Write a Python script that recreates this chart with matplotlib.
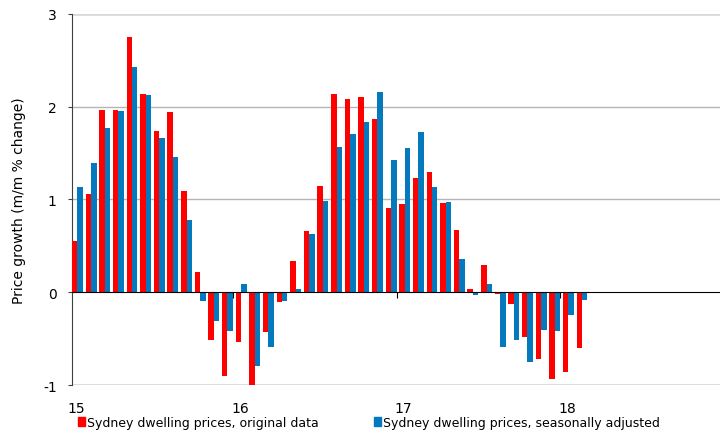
import numpy as np
import matplotlib
matplotlib.use("Agg")
import matplotlib.pyplot as plt
from matplotlib.patches import Patch
from matplotlib.transforms import blended_transform_factory

# monthly growth, Jan 2015 - Feb 2018
original = [0.55, 1.06, 1.97, 1.96, 2.75, 2.14, 1.74, 1.94, 1.09, 0.22, -0.52, -0.90,
            -0.54, -1.02, -0.43, -0.10, 0.34, 0.66, 1.15, 2.14, 2.08, 2.11, 1.87, 0.91,
            0.95, 1.23, 1.30, 0.96, 0.67, 0.035, 0.29, -0.02, -0.13, -0.48, -0.72, -0.93,
            -0.86, -0.60]
seas_adj = [1.13, 1.39, 1.77, 1.95, 2.43, 2.13, 1.66, 1.46, 0.78, -0.09, -0.31, -0.42,
            0.09, -0.80, -0.59, -0.09, 0.035, 0.63, 0.98, 1.57, 1.71, 1.83, 2.16, 1.43,
            1.56, 1.73, 1.14, 0.97, 0.36, -0.03, 0.086, -0.59, -0.51, -0.75, -0.41, -0.42,
            -0.25, -0.08]
year_labels = ["15", "16", "17", "18"]

red = "#ff0000"
blue = "#0479be"

fig = plt.figure(figsize=(7.2, 4.35), dpi=100)
ax = fig.add_axes([0.1, 0.1126, 0.9, 0.853])

x = np.arange(len(original))
w = 0.4
ax.bar(x + 0.18, original, width=w, align="edge", color=red, zorder=3)
ax.bar(x + 0.18 + w, seas_adj, width=w, align="edge", color=blue, zorder=3)

ax.set_xlim(0.18, 47.7)
ax.set_ylim(-1, 3)

# gridlines
for v in [1, 2]:
    ax.axhline(v, color="#b5b5b5", lw=1, zorder=1)
for v in [3, -1]:
    ax.axhline(v, color="#d9d9d9", lw=2, zorder=1)

for s in ["top", "right"]:
    ax.spines[s].set_visible(False)
ax.spines["left"].set_color("#404040")
ax.spines["bottom"].set_position(("data", 0))
ax.spines["bottom"].set_color("black")
ax.spines["bottom"].set_zorder(4)

ax.set_yticks([-1, 0, 1, 2, 3])
ax.set_yticklabels(["-1", "0", "1", "2", "3"])
ax.tick_params(axis="y", length=3, color="#404040", labelsize=10, pad=8)

ax.set_xticks([12, 24, 36])
ax.set_xticklabels([])
ax.tick_params(axis="x", length=4, color="black", direction="out")

trans = blended_transform_factory(ax.transData, ax.transAxes)
for i, lab in enumerate(year_labels):
    ax.text(i * 12 + 0.5, -0.062, lab, transform=trans, ha="center", va="center",
            fontsize=10)

ax.set_ylabel("Price growth (m/m % change)", fontsize=10, labelpad=12)

handles = [Patch(color=red), Patch(color=blue)]
labels = ["Sydney dwelling prices, original data",
          "Sydney dwelling prices, seasonally adjusted"]
fig.legend(handles, labels, loc="lower left", bbox_to_anchor=(0.108, 0.012), ncol=2,
           frameon=False, fontsize=9, handlelength=0.55, handleheight=0.8,
           handletextpad=0.2, columnspacing=4.4, borderpad=0, borderaxespad=0)

fig.savefig("out.png", dpi=100)
